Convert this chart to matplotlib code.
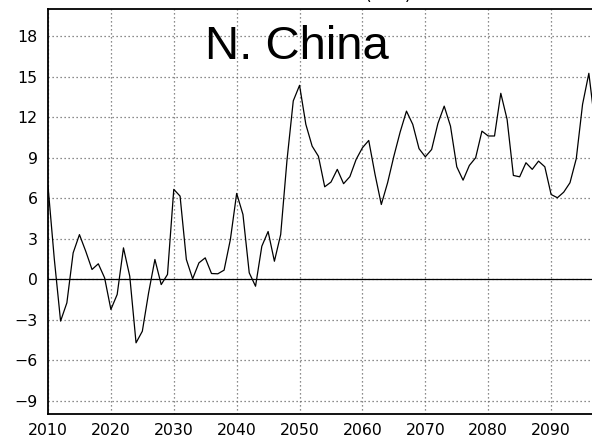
import numpy as np
import matplotlib
matplotlib.use("Agg")
import matplotlib.pyplot as plt

# annual series (2010 .. 2097)
years = np.arange(2010, 2098)
values = [
    6.9, 1.5, -3.1, -1.75, 1.95, 3.3, 2.07, 0.72, 1.14, 0.1,
    -2.24, -1.13, 2.32, 0.22, -4.71, -3.85, -1.0, 1.46, -0.4, 0.35,
    6.65, 6.15, 1.46, 0.03, 1.21, 1.58, 0.42, 0.4, 0.67, 2.94,
    6.35, 4.79, 0.47, -0.52, 2.44, 3.53, 1.33, 3.31, 8.8, 13.2,
    14.35, 11.46, 9.85, 9.1, 6.84, 7.19, 8.13, 7.07, 7.59, 8.87,
    9.73, 10.27, 7.76, 5.53, 7.14, 9.11, 10.9, 12.44, 11.46, 9.66,
    9.06, 9.6, 11.53, 12.81, 11.33, 8.32, 7.33, 8.42, 8.99, 10.96,
    10.6, 10.6, 13.76, 11.83, 7.68, 7.58, 8.62, 8.13, 8.74, 8.32,
    6.27, 6.03, 6.44, 7.14, 8.92, 12.94, 15.24, 11.4,
]
xticks = list(range(2010, 2091, 10))
yticks = list(range(-9, 19, 3))
region = "N. China"

W, H = 592, 437
fig = plt.figure(figsize=(W / 100, H / 100), dpi=100)
fig.patch.set_facecolor("white")

# axes run past the right edge of the picture (reference is cropped)
left, right, top, bottom = 48, 614, 9, 414.3
ax = fig.add_axes([left / W, (H - bottom) / H, (right - left) / W, (bottom - top) / H])

ax.set_xlim(2010, 2100)
ax.set_ylim(-10, 20)
ax.set_xticks(xticks)
ax.set_yticks(yticks)

ax.grid(True, linestyle=(0, (1, 2.2)), linewidth=0.9, color="#666666")
ax.set_axisbelow(True)
ax.axhline(0, color="black", linewidth=0.9, zorder=2)

ax.plot(years, values, color="black", linewidth=0.9, zorder=3)

ax.text(2049.6, 16.27, region, fontsize=34, family="Liberation Sans",
        ha="center", va="baseline", zorder=4)

ax.tick_params(length=0, labelsize=11.3)
ax.tick_params(axis="y", pad=7.5)
ax.tick_params(axis="x", pad=6.5)
for s in ax.spines.values():
    s.set_linewidth(1.3)

# title mostly cut off at the top of the reference
fig.text(388 / W, 1.0, "(mm)", fontsize=12.5, ha="center", va="baseline")

fig.savefig("out.png", dpi=100)
